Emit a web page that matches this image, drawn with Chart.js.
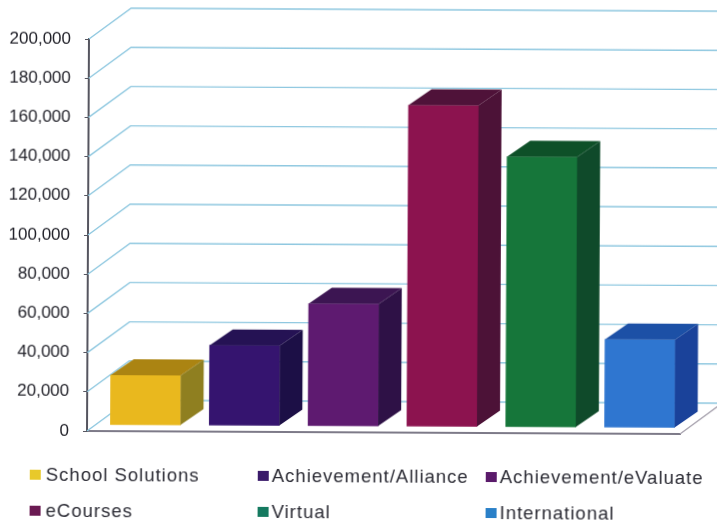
<!DOCTYPE html>
<html>
<head>
<meta charset="utf-8">
<script src="https://cdn.jsdelivr.net/npm/chart.js@4"></script>
<style>
  html, body { margin: 0; padding: 0; background: #fff; overflow: hidden; }
  /* the reference is a slightly crooked scan, so the whole figure is turned a touch */
  #figure {
    position: relative; width: 717px; height: 525px;
    transform: rotate(0.29deg); transform-origin: 87px 431px;
    filter: blur(0.6px);
  }
  #legend { position: absolute; left: 0; top: 0; width: 717px; height: 525px; }
  .item {
    position: absolute; white-space: nowrap; color: #2a2a33;
    font: 18.5px "Liberation Sans", Arial, sans-serif; letter-spacing: 1px; line-height: 20px;
  }
  .swatch { position: absolute; width: 11px; height: 10px; }
</style>
</head>
<body>
<div id="figure">
  <canvas id="chart" width="717" height="525"></canvas>
  <div id="legend"></div>
</div>
<script>
const categories = [
  "School Solutions",
  "Achievement/Alliance",
  "Achievement/eValuate",
  "eCourses",
  "Virtual",
  "International",
];
const revenue = [25500, 41000, 62500, 164000, 138000, 45000];

const frontColors = ["#e9b81e", "#35146f", "#5e1a70", "#8c134f", "#16763a", "#2f76d0"];
const topColors = ["#ab8412", "#251254", "#3c1552", "#4f1239", "#0e5028", "#1c50a6"];
const sideColors = ["#8f7f20", "#1c0f46", "#2e1146", "#4c1237", "#0f4a2a", "#1a429a"];
const swatchColors = ["#e8c92a", "#3a1a6a", "#5a1a6a", "#6a1a52", "#157a60", "#2a80c8"];

const WALL_DX = 42, WALL_DY = -31; // floor depth
const BAR_DX = 23, BAR_DY = -16; // bar depth
const BAR_SHIFT_X = 9, BAR_SHIFT_Y = -6; // bars stand in the middle of the floor

function poly(ctx, pts, fill) {
  ctx.beginPath();
  pts.forEach((p, i) => (i ? ctx.lineTo(p[0], p[1]) : ctx.moveTo(p[0], p[1])));
  ctx.closePath();
  ctx.fillStyle = fill;
  ctx.fill();
}

const depthPlugin = {
  id: "depth",
  beforeDatasetsDraw(chart) {
    const { ctx, chartArea, scales } = chart;
    ctx.save();
    ctx.lineWidth = 1.4;
    ctx.strokeStyle = "#8fc8e0";
    scales.y.ticks.forEach((t) => {
      const y = scales.y.getPixelForValue(t.value);
      ctx.beginPath();
      ctx.moveTo(chartArea.left, y);
      ctx.lineTo(chartArea.left + WALL_DX, y + WALL_DY);
      ctx.lineTo(chartArea.right + WALL_DX, y + WALL_DY);
      ctx.stroke();
    });
    // right edge of the floor
    const y0 = scales.y.getPixelForValue(0);
    ctx.strokeStyle = "#a9a4b0";
    ctx.beginPath();
    ctx.moveTo(chartArea.right, y0);
    ctx.lineTo(chartArea.right + WALL_DX, y0 + WALL_DY);
    ctx.stroke();
    ctx.restore();
  },
  beforeDatasetDraw(chart) {
    chart.ctx.save();
    chart.ctx.translate(BAR_SHIFT_X, BAR_SHIFT_Y);
  },
  afterDatasetDraw(chart, args) {
    const ctx = chart.ctx;
    args.meta.data.forEach((bar, i) => {
      const l = bar.x - bar.width / 2, r = bar.x + bar.width / 2;
      poly(ctx, [[l, bar.y], [l + BAR_DX, bar.y + BAR_DY], [r + BAR_DX, bar.y + BAR_DY], [r, bar.y]], topColors[i]);
      poly(ctx, [[r, bar.y], [r + BAR_DX, bar.y + BAR_DY], [r + BAR_DX, bar.base + BAR_DY], [r, bar.base]], sideColors[i]);
    });
    ctx.restore();
  },
};

new Chart(document.getElementById("chart"), {
  type: "bar",
  data: {
    labels: categories,
    datasets: [
      {
        data: revenue,
        backgroundColor: frontColors,
        barThickness: 70,
        clip: false,
      },
    ],
  },
  options: {
    responsive: false,
    animation: false,
    layout: { padding: { left: 0, right: 37, top: 39, bottom: 94 } },
    plugins: { legend: { display: false }, tooltip: { enabled: false } },
    scales: {
      x: {
        afterFit(scale) { scale.height = 0; },
        grid: { display: false },
        border: { color: "#7d7a88", width: 2 },
        ticks: { display: false },
      },
      y: {
        min: 0,
        max: 200000,
        afterFit(scale) { scale.width = 87; },
        grid: { drawOnChartArea: false, color: "#55555f", tickLength: 4 },
        border: { color: "#55555f", width: 2 },
        ticks: {
          stepSize: 20000,
          padding: 14,
          color: "#22222a",
          font: { family: "'Liberation Sans', Arial, sans-serif", size: 17 },
          callback: (v) => v.toLocaleString("en-US"),
        },
      },
    },
  },
  plugins: [depthPlugin],
});

// legend is a fixed 3 x 2 grid, Chart.js would centre the rows
const legendColumns = [[30, 46], [258, 272], [486, 500]];
const legendRows = [475, 511];
const legend = document.getElementById("legend");
categories.forEach((name, i) => {
  const col = legendColumns[i % 3], rowY = legendRows[Math.floor(i / 3)];
  const sw = document.createElement("div");
  sw.className = "swatch";
  sw.style.cssText = `left:${col[0]}px;top:${rowY - 5}px;background:${swatchColors[i]}`;
  const label = document.createElement("div");
  label.className = "item";
  label.style.cssText = `left:${col[1]}px;top:${rowY - 10}px`;
  label.textContent = name;
  legend.append(sw, label);
});
</script>
</body>
</html>
